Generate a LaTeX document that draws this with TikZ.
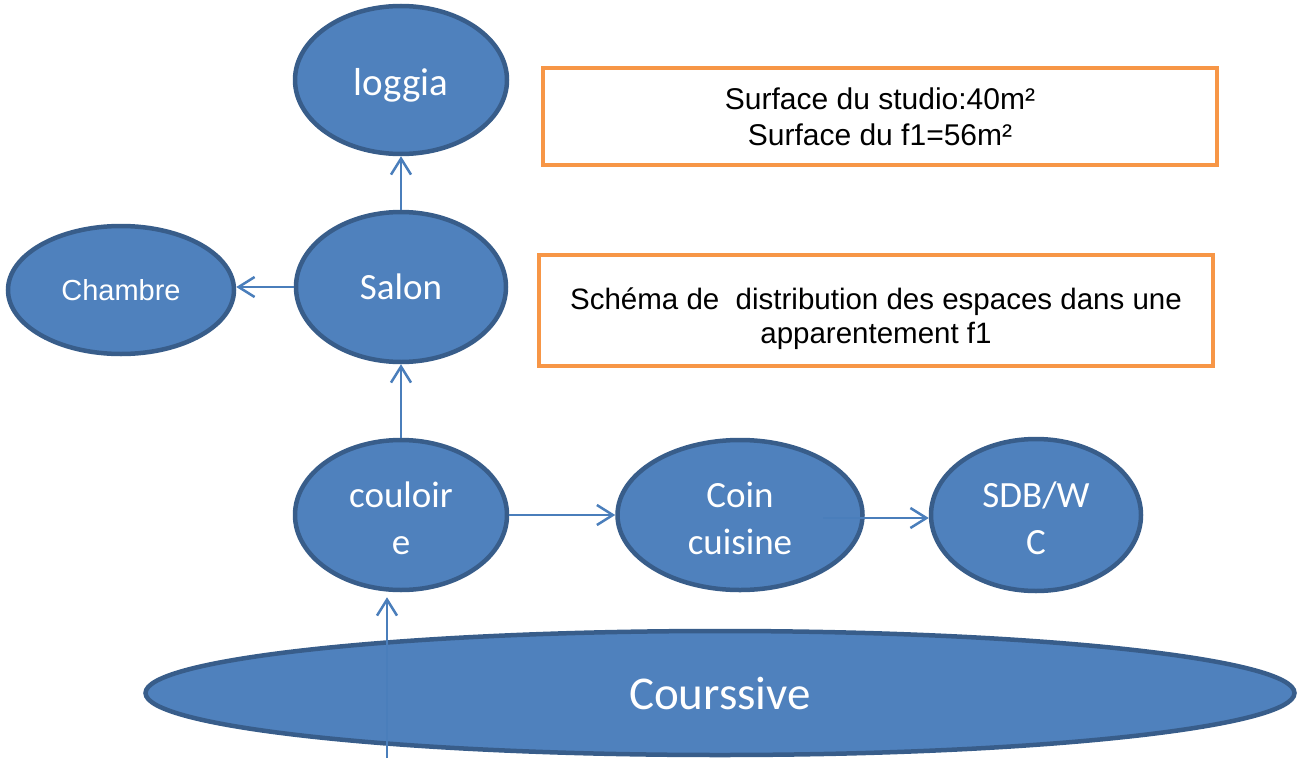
\documentclass[tikz,border=0pt]{standalone}
\usepackage{fontspec}
\setmainfont{Liberation Sans}
\newfontfamily\calib{Carlito}
\usetikzlibrary{shapes.geometric,arrows.meta}
\definecolor{fillblue}{HTML}{4F81BD}
\definecolor{edgeblue}{HTML}{385D8A}
\definecolor{arrowblue}{HTML}{4A7EBB}
\definecolor{boxorange}{HTML}{F79646}
\newcommand{\lowerby}[1]{\rule{0pt}{#1}}
\begin{document}
\begin{tikzpicture}[x=1pt,y=-1pt,
  room/.style={ellipse, draw=edgeblue, fill=fillblue, line width=4.5pt, inner sep=0pt,
    text=white, align=center, font=\calib\fontsize{37}{47}\selectfont},
  infobox/.style={draw=boxorange, line width=4pt, fill=white, inner sep=0pt,
    align=center, font=\fontsize{30}{36}\selectfont},
  link/.style={draw=arrowblue, line width=2.5pt,
    -{Straight Barb[length=16pt,width=20pt]}}
]
\useasboundingbox (0,0) rectangle (1298,779);

\node[room, minimum width=212pt, minimum height=148pt, font=\calib\fontsize{39}{47}\selectfont,
  text height=37pt] (loggia) at (401,80) {loggia};
\node[room, minimum width=210pt, minimum height=150pt] (salon) at (401,287) {Salon};
\node[room, minimum width=226pt, minimum height=128pt, font=\fontsize{29}{35}\selectfont] (chambre) at (121,290) {Chambre};
\node[room, minimum width=212pt, minimum height=150pt] (couloir) at (401,515) {\lowerby{32pt}couloir\\e};
\node[room, minimum width=245pt, minimum height=150pt] (coin) at (740,515) {\lowerby{32pt}Coin\\cuisine};
\node[room, minimum width=210pt, minimum height=152pt] (sdb) at (1036,515) {\lowerby{32pt}SDB/W\\C};
\node[room, minimum width=1149pt, minimum height=124pt, font=\calib\fontsize{47}{56}\selectfont] (coursive) at (720,693) {Courssive};

\node[infobox, minimum width=674pt, minimum height=97pt] (surf) at (880,116.5)
  {Surface du studio:40m\texttwosuperior\\Surface du f1=56m\texttwosuperior};
\node[infobox, minimum width=674pt, minimum height=111pt, font=\fontsize{29.5}{34}\selectfont]
  (titre) at (876,310.5)
  {\lowerby{39pt}Schéma de\ \ distribution des espaces dans une\\apparentement f1};

\coordinate (cstart) at (823,518);
\coordinate (bstart) at (387,758);

\draw[link] (salon.north) -- (loggia.south);
\draw[link] (salon.west) -- (chambre.east |- salon.west);
\draw[link] (couloir.north) -- (salon.south);
\draw[link] (couloir.east) -- (coin.west);
\draw[link] (cstart) -- (sdb.west |- cstart);
\draw[link, shorten >=5pt] (bstart) -- (couloir.south -| bstart);
\end{tikzpicture}
\end{document}
